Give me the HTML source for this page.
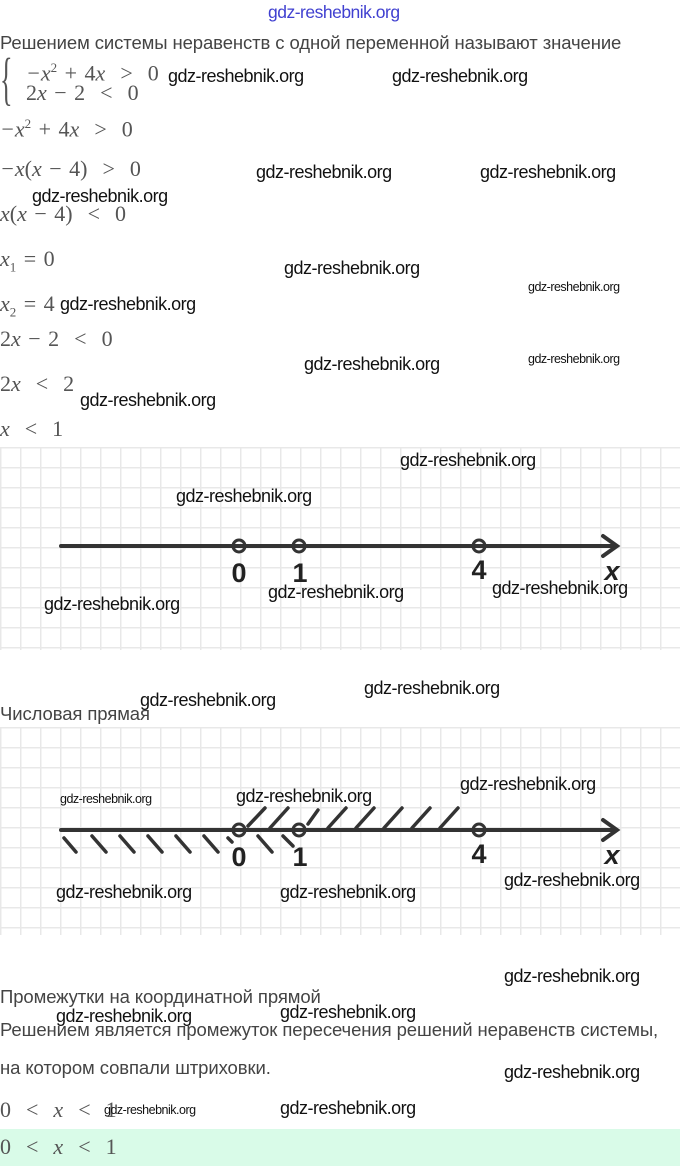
<!DOCTYPE html>
<html><head><meta charset="utf-8"><style>
body{margin:0;width:680px;height:1166px;background:#fff;position:relative;overflow:hidden;font-family:"Liberation Sans",sans-serif}
.t{position:absolute;white-space:nowrap;color:#444;font-size:18.5px;line-height:20px;letter-spacing:-0.1px}
.m{position:absolute;white-space:nowrap;color:#555;font-family:"Liberation Serif",serif;font-size:22px;line-height:24px;word-spacing:2px}
.m i{font-style:italic}
.w{position:absolute;white-space:nowrap;color:#111;font-size:18px;line-height:20px;letter-spacing:-0.5px;transform:translateY(-50%)}
.ws{font-size:12.5px;letter-spacing:-0.5px}
.grid{position:absolute;left:0;width:680px;background-image:linear-gradient(to right,#e8e8e8 1.5px,transparent 1.5px),linear-gradient(to bottom,#e8e8e8 1.5px,transparent 1.5px);background-size:20px 20px;background-position:20px 0}
</style></head><body>
<div class="grid" style="top:447px;height:203px"></div>
<div class="grid" style="top:727px;height:208px"></div>
<div class="w" style="left:268px;top:12px;color:#4040d0;font-size:17.5px">gdz-reshebnik.org</div>
<div class="t" style="left:0;top:33px">Решением системы неравенств с одной переменной называют значение</div>
<div class="m" style="left:0;top:50px;font-size:58px;line-height:58px;transform:scaleX(0.45);transform-origin:left">{</div>
<div class="m" style="left:26px;top:56px"><i>−x</i><sup style="font-size:13px">2</sup> + 4<i>x</i> &nbsp;&gt;&nbsp; 0</div>
<div class="m" style="left:26px;top:81px">2<i>x</i> − 2 &nbsp;&lt;&nbsp; 0</div>
<div class="m" style="left:0;top:112px"><i>−x</i><sup style="font-size:13px">2</sup> + 4<i>x</i> &nbsp;&gt;&nbsp; 0</div>
<div class="m" style="left:0;top:157px"><i>−x</i>(<i>x</i> − 4) &nbsp;&gt;&nbsp; 0</div>
<div class="m" style="left:0;top:202px"><i>x</i>(<i>x</i> − 4) &nbsp;&lt;&nbsp; 0</div>
<div class="m" style="left:0;top:247px"><i>x</i><sub style="font-size:13px">1</sub> = 0</div>
<div class="m" style="left:0;top:292px"><i>x</i><sub style="font-size:13px">2</sub> = 4</div>
<div class="m" style="left:0;top:327px">2<i>x</i> − 2 &nbsp;&lt;&nbsp; 0</div>
<div class="m" style="left:0;top:372px">2<i>x</i> &nbsp;&lt;&nbsp; 2</div>
<div class="m" style="left:0;top:417px"><i>x</i> &nbsp;&lt;&nbsp; 1</div>

<svg style="position:absolute;left:0;top:0" width="680" height="1166">
<g stroke="#333" stroke-width="4" fill="none" stroke-linecap="round">
<line x1="61" y1="546" x2="616" y2="546"/><polyline points="603,536 617,546 603,556"/>
<circle cx="239" cy="546" r="6" stroke-width="3"/><circle cx="299" cy="546" r="6" stroke-width="3"/><circle cx="479" cy="546" r="6" stroke-width="3"/>
<line x1="61" y1="830" x2="616" y2="830"/><polyline points="603,820 617,830 603,840"/>
<circle cx="239" cy="830" r="6" stroke-width="3"/><circle cx="299" cy="830" r="6" stroke-width="3"/><circle cx="479" cy="830" r="6" stroke-width="3"/>
<g stroke-width="3.5">
<line x1="64" y1="838" x2="76" y2="852"/><line x1="92" y1="836" x2="106" y2="852"/><line x1="120" y1="836" x2="134" y2="852"/><line x1="148" y1="836" x2="162" y2="852"/><line x1="176" y1="836" x2="190" y2="852"/><line x1="204" y1="836" x2="218" y2="852"/><line x1="228" y1="838" x2="232" y2="842"/><line x1="258" y1="836" x2="272" y2="852"/><line x1="283" y1="836" x2="293" y2="846"/>
<line x1="248" y1="826" x2="265" y2="808"/><line x1="270" y1="828" x2="288" y2="808"/><line x1="308" y1="824" x2="318" y2="810"/><line x1="328" y1="828" x2="346" y2="808"/><line x1="356" y1="828" x2="374" y2="808"/><line x1="384" y1="828" x2="402" y2="808"/><line x1="412" y1="828" x2="430" y2="808"/><line x1="440" y1="828" x2="458" y2="808"/>
</g></g>
<g font-family="Liberation Sans,sans-serif" font-size="27" font-weight="bold" fill="#222" text-anchor="middle">
<text x="239" y="582">0</text><text x="300" y="582">1</text><text x="479" y="579">4</text><text x="612" y="580" font-style="italic">x</text>
<text x="239" y="866">0</text><text x="300" y="866">1</text><text x="479" y="863">4</text><text x="612" y="864" font-style="italic">x</text>
</g></svg>

<div class="t" style="left:0;top:704px">Числовая прямая</div>
<div class="t" style="left:0;top:987px">Промежутки на координатной прямой</div>
<div class="t" style="left:0;top:1020px">Решением является промежуток пересечения решений неравенств системы,</div>
<div class="t" style="left:0;top:1058px">на котором совпали штриховки.</div>
<div style="position:absolute;left:0;top:1129px;width:680px;height:37px;background:#d9fbe8"></div>
<div class="m" style="left:0;top:1098px">0 &nbsp;&lt;&nbsp; <i>x</i> &nbsp;&lt;&nbsp; 1</div>
<div class="m" style="left:0;top:1135px">0 &nbsp;&lt;&nbsp; <i>x</i> &nbsp;&lt;&nbsp; 1</div>

<div class="w" style="left:168px;top:76px">gdz-reshebnik.org</div>
<div class="w" style="left:392px;top:76px">gdz-reshebnik.org</div>
<div class="w" style="left:256px;top:172px">gdz-reshebnik.org</div>
<div class="w" style="left:480px;top:172px">gdz-reshebnik.org</div>
<div class="w" style="left:32px;top:196px">gdz-reshebnik.org</div>
<div class="w" style="left:284px;top:268px">gdz-reshebnik.org</div>
<div class="w ws" style="left:528px;top:287px">gdz-reshebnik.org</div>
<div class="w" style="left:60px;top:304px">gdz-reshebnik.org</div>
<div class="w" style="left:304px;top:364px">gdz-reshebnik.org</div>
<div class="w ws" style="left:528px;top:359px">gdz-reshebnik.org</div>
<div class="w" style="left:80px;top:400px">gdz-reshebnik.org</div>
<div class="w" style="left:400px;top:460px">gdz-reshebnik.org</div>
<div class="w" style="left:176px;top:496px">gdz-reshebnik.org</div>
<div class="w" style="left:268px;top:592px">gdz-reshebnik.org</div>
<div class="w" style="left:492px;top:588px">gdz-reshebnik.org</div>
<div class="w" style="left:44px;top:604px">gdz-reshebnik.org</div>
<div class="w" style="left:364px;top:688px">gdz-reshebnik.org</div>
<div class="w" style="left:140px;top:700px">gdz-reshebnik.org</div>
<div class="w" style="left:460px;top:784px">gdz-reshebnik.org</div>
<div class="w" style="left:236px;top:796px">gdz-reshebnik.org</div>
<div class="w ws" style="left:60px;top:799px">gdz-reshebnik.org</div>
<div class="w" style="left:56px;top:892px">gdz-reshebnik.org</div>
<div class="w" style="left:280px;top:892px">gdz-reshebnik.org</div>
<div class="w" style="left:504px;top:880px">gdz-reshebnik.org</div>
<div class="w" style="left:504px;top:976px">gdz-reshebnik.org</div>
<div class="w" style="left:56px;top:1016px">gdz-reshebnik.org</div>
<div class="w" style="left:280px;top:1012px">gdz-reshebnik.org</div>
<div class="w" style="left:504px;top:1072px">gdz-reshebnik.org</div>
<div class="w" style="left:280px;top:1108px">gdz-reshebnik.org</div>
<div class="w ws" style="left:104px;top:1110px">gdz-reshebnik.org</div>
</body></html>
